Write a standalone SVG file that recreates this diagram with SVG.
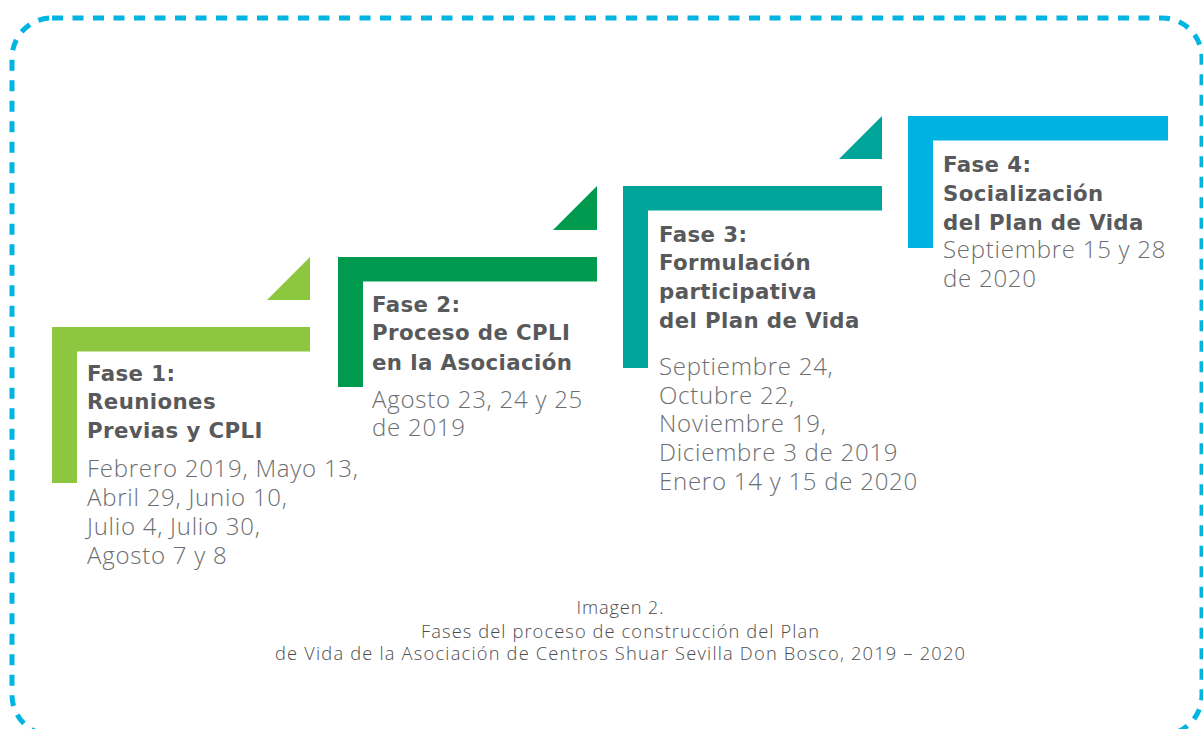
<svg xmlns="http://www.w3.org/2000/svg" width="1203" height="729" viewBox="0 0 1203 729">
<style>
.title{font-family:"DejaVu Sans","Liberation Sans",sans-serif;font-weight:bold;font-size:21.3px;letter-spacing:0.4px;fill:#58595b}
.body{font-family:"Open Sans","Liberation Sans",sans-serif;font-weight:300;font-size:24px;letter-spacing:0.75px;fill:#6d6e71}
.cap{font-family:"Open Sans","Liberation Sans",sans-serif;font-weight:300;font-size:18.3px;fill:#4d4d4f;text-anchor:middle}
.border{fill:none;stroke:#00b5e2;stroke-width:5;stroke-dasharray:11 9.5}
</style>
<rect width="1203" height="729" fill="#ffffff"/>
<rect class="border" x="12" y="18" width="1190" height="717" rx="40" ry="40"/>
<g id="connectors"></g>
<g id="fase1">
<path d="M52 327H310V351.5H77V483H52Z" fill="#8dc63f"/>
<path d="M267 300H310V257Z" fill="#8dc63f"/>
<text class="title" x="87" y="380.5">Fase 1:</text>
<text class="title" x="87" y="409">Reuniones</text>
<text class="title" x="87" y="437.5">Previas y CPLI</text>
<text class="body" x="87" y="476.7">Febrero 2019, Mayo 13,</text>
<text class="body" x="87" y="505.7">Abril 29, Junio 10,</text>
<text class="body" x="87" y="534.7">Julio 4, Julio 30,</text>
<text class="body" x="87" y="563.7">Agosto 7 y 8</text>
</g>
<g id="fase2">
<path d="M338 257H597V281.5H363V387H338Z" fill="#009a4e"/>
<path d="M553 230H597V186Z" fill="#009a4e"/>
<text class="title" x="372" y="311.5">Fase 2:</text>
<text class="title" x="372" y="340.3">Proceso de CPLI</text>
<text class="title" x="372" y="369.5">en la Asociación</text>
<text class="body" x="372" y="407.7">Agosto 23, 24 y 25</text>
<text class="body" x="372" y="436.2">de 2019</text>
</g>
<g id="fase3">
<path d="M623 186H882V210.5H648V368H623Z" fill="#00a499"/>
<path d="M839 159H882V116Z" fill="#00a499"/>
<text class="title" x="659" y="241.5">Fase 3:</text>
<text class="title" x="659" y="270.3">Formulación</text>
<text class="title" x="659" y="299.2">participativa</text>
<text class="title" x="659" y="328">del Plan de Vida</text>
<text class="body" x="659" y="374.8">Septiembre 24,</text>
<text class="body" x="659" y="403.6">Octubre 22,</text>
<text class="body" x="659" y="432.4">Noviembre 19,</text>
<text class="body" x="659" y="461.2">Diciembre 3 de 2019</text>
<text class="body" x="659" y="490">Enero 14 y 15 de 2020</text>
</g>
<g id="fase4">
<path d="M908 116H1168V140.5H933V248H908Z" fill="#00b2e2"/>
<text class="title" x="943" y="172.3">Fase 4:</text>
<text class="title" x="943" y="200.9">Socialización</text>
<text class="title" x="943" y="229.5">del Plan de Vida</text>
<text class="body" x="943" y="257.7">Septiembre 15 y 28</text>
<text class="body" x="943" y="286.5">de 2020</text>
</g>
<g id="caption">
<text class="cap" x="620" y="613.5" textLength="87" lengthAdjust="spacing">Imagen 2.</text>
<text class="cap" x="620" y="637.5" textLength="398" lengthAdjust="spacing">Fases del proceso de construcción del Plan</text>
<text class="cap" x="620" y="659.5" textLength="690" lengthAdjust="spacing">de Vida de la Asociación de Centros Shuar Sevilla Don Bosco, 2019 – 2020</text>
</g>
</svg>
